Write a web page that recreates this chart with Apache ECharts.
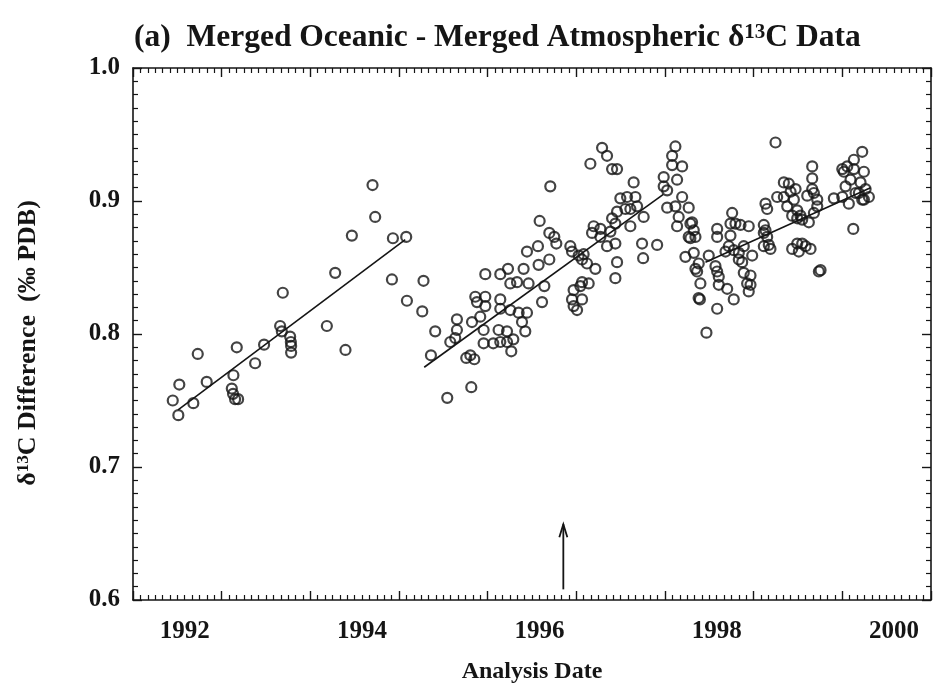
<!DOCTYPE html>
<html>
<head>
<meta charset="utf-8">
<script src="https://cdn.jsdelivr.net/npm/echarts@6/dist/echarts.min.js"></script>
<style>
  html, body { margin: 0; padding: 0; background: #ffffff; }
  #chart { width: 935px; height: 689px; }
</style>
</head>
<body>
<div id="chart"></div>
<script>
// Oceanic minus atmospheric δ13C differences, by analysis date (decimal year, ‰ PDB)
const pointsEarly = [
  [1991.865, 0.750], [1991.928, 0.739], [1991.939, 0.762], [1992.097, 0.748],
  [1992.147, 0.785], [1992.248, 0.764], [1992.549, 0.769], [1992.531, 0.759],
  [1992.545, 0.755], [1992.568, 0.751], [1992.602, 0.751], [1992.587, 0.790],
  [1992.794, 0.778], [1992.895, 0.792], [1993.076, 0.806], [1993.106, 0.831],
  [1993.095, 0.802], [1993.189, 0.798], [1993.197, 0.794], [1993.200, 0.791],
  [1993.200, 0.786], [1993.603, 0.806], [1993.697, 0.846], [1993.813, 0.788],
  [1993.885, 0.874], [1994.118, 0.912], [1994.148, 0.888], [1994.348, 0.872],
  [1994.498, 0.873], [1994.337, 0.841], [1994.506, 0.825]
];

const pointsMid = [
  [1994.693, 0.840], [1994.679, 0.817], [1994.825, 0.802], [1994.777, 0.784],
  [1994.961, 0.752], [1995.232, 0.760], [1995.175, 0.782], [1995.266, 0.781],
  [1995.221, 0.784], [1995.480, 0.793], [1995.683, 0.787], [1995.706, 0.796],
  [1996.123, 0.911], [1996.003, 0.885], [1996.112, 0.876], [1996.168, 0.873],
  [1996.191, 0.868], [1995.860, 0.862], [1995.984, 0.866], [1996.112, 0.856],
  [1995.991, 0.852], [1995.822, 0.849], [1995.646, 0.849], [1995.559, 0.845],
  [1995.390, 0.845], [1995.672, 0.838], [1995.748, 0.839], [1995.878, 0.838],
  [1996.056, 0.836], [1996.030, 0.824], [1995.277, 0.828], [1995.390, 0.828],
  [1995.296, 0.824], [1995.390, 0.821], [1995.559, 0.826], [1995.559, 0.819],
  [1995.672, 0.818], [1995.240, 0.809], [1995.333, 0.813], [1995.070, 0.811],
  [1995.070, 0.803], [1994.995, 0.794], [1995.051, 0.797], [1995.371, 0.803],
  [1995.371, 0.793], [1995.540, 0.803], [1995.635, 0.802], [1995.559, 0.794],
  [1995.635, 0.794], [1995.841, 0.802], [1995.766, 0.816], [1995.860, 0.816],
  [1995.804, 0.809], [1996.368, 0.862], [1996.349, 0.866], [1996.443, 0.859],
  [1996.499, 0.860], [1996.481, 0.856], [1996.537, 0.853], [1996.631, 0.849],
  [1996.556, 0.838], [1996.481, 0.839], [1996.462, 0.836], [1996.386, 0.833],
  [1996.368, 0.826], [1996.386, 0.821], [1996.425, 0.818], [1996.481, 0.826],
  [1996.857, 0.842], [1996.876, 0.854], [1996.857, 0.868], [1996.763, 0.866],
  [1996.688, 0.873], [1996.612, 0.881], [1996.594, 0.876], [1996.688, 0.879],
  [1996.575, 0.928], [1996.707, 0.940], [1996.763, 0.934], [1996.820, 0.924],
  [1996.876, 0.924], [1996.820, 0.887], [1996.876, 0.892], [1996.913, 0.902],
  [1996.989, 0.903], [1996.970, 0.894], [1997.026, 0.894], [1997.063, 0.914],
  [1997.083, 0.903], [1997.102, 0.896], [1997.026, 0.881], [1997.176, 0.888],
  [1996.857, 0.883], [1996.801, 0.877], [1997.158, 0.868], [1997.328, 0.867],
  [1997.170, 0.857], [1997.534, 0.941], [1997.497, 0.934], [1997.610, 0.926],
  [1997.497, 0.927], [1997.402, 0.918], [1997.553, 0.916], [1997.402, 0.911],
  [1997.441, 0.908], [1997.610, 0.903], [1997.684, 0.895], [1997.534, 0.896],
  [1997.441, 0.895], [1997.571, 0.888], [1997.553, 0.881]
];

const pointsLate = [
  [1997.703, 0.883], [1997.741, 0.878], [1997.703, 0.872], [1997.760, 0.873],
  [1997.722, 0.884], [1997.684, 0.873], [1997.647, 0.858], [1997.741, 0.861],
  [1997.797, 0.853], [1997.910, 0.859], [1997.779, 0.847], [1997.760, 0.849],
  [1997.816, 0.838], [1997.810, 0.826], [1997.796, 0.827], [1998.005, 0.879],
  [1998.005, 0.873], [1997.986, 0.851], [1998.005, 0.847], [1998.023, 0.843],
  [1998.023, 0.837], [1998.118, 0.834], [1998.192, 0.826], [1998.005, 0.819],
  [1997.884, 0.801], [1998.174, 0.891], [1998.155, 0.883], [1998.211, 0.883],
  [1998.268, 0.882], [1998.361, 0.881], [1998.155, 0.874], [1998.136, 0.866],
  [1998.099, 0.862], [1998.192, 0.863], [1998.249, 0.861], [1998.305, 0.866],
  [1998.249, 0.856], [1998.287, 0.854], [1998.400, 0.859], [1998.305, 0.846],
  [1998.381, 0.844], [1998.343, 0.838], [1998.381, 0.837], [1998.361, 0.832],
  [1998.550, 0.898], [1998.569, 0.894], [1998.531, 0.882], [1998.550, 0.878],
  [1998.531, 0.876], [1998.569, 0.873], [1998.587, 0.867], [1998.606, 0.864],
  [1998.531, 0.866], [1998.663, 0.944], [1998.757, 0.914], [1998.813, 0.913],
  [1998.889, 0.909], [1998.682, 0.903], [1998.757, 0.903], [1998.833, 0.907],
  [1998.870, 0.901], [1998.795, 0.896], [1998.908, 0.893], [1998.851, 0.889],
  [1998.945, 0.889], [1998.964, 0.886], [1998.908, 0.887], [1998.851, 0.864],
  [1998.908, 0.868], [1998.964, 0.868], [1999.002, 0.866], [1999.058, 0.864],
  [1998.926, 0.862], [1999.152, 0.847], [1999.171, 0.848], [1999.077, 0.926],
  [1999.077, 0.917], [1999.077, 0.909], [1999.021, 0.904], [1999.096, 0.906],
  [1999.134, 0.901], [1999.134, 0.896], [1999.039, 0.884], [1999.096, 0.891],
  [1999.321, 0.902], [1999.416, 0.924], [1999.434, 0.922], [1999.547, 0.931],
  [1999.641, 0.937], [1999.547, 0.924], [1999.509, 0.916], [1999.660, 0.922],
  [1999.622, 0.914], [1999.679, 0.909], [1999.603, 0.906], [1999.716, 0.903],
  [1999.490, 0.898], [1999.660, 0.901], [1999.416, 0.903], [1999.453, 0.911],
  [1999.540, 0.879], [1999.472, 0.926], [1999.566, 0.906], [1999.641, 0.901]
];

// Linear trend segments fitted to each period
const trendEarly = [[1991.925, 0.743], [1994.487, 0.871]];
const trendMid = [[1994.701, 0.775], [1997.398, 0.905]];
const trendLate = [[1997.873, 0.854], [1999.735, 0.910]];

// Marker arrow: date, base value, tip value
const arrowMark = [[1996.270, 0.608, 0.657]];

// Axis extents and labels
const dateMin = 1991 + 5 / 12;
const dateMax = 2000 + 5 / 12;
const xLabelYears = [1992, 1994, 1996, 1998, 2000];
const yTicks = [0.6, 0.7, 0.8, 0.9, 1.0];

const INK = '#151515';
const SERIF = '"Liberation Serif", "DejaVu Serif", serif';

const chart = echarts.init(document.getElementById('chart'), null, { renderer: 'canvas' });

// Month offsets (from Jan 1992) for the label axis
const monthMin = Math.round((dateMin - 1992) * 12);
const monthMax = Math.round((dateMax - 1992) * 12);
const yearSpan = Math.round(dateMax - dateMin);

function tickAxis(position) {
  return {
    type: 'value',
    position: position,
    min: 0,
    max: yearSpan,
    interval: 1,
    axisLine: { show: true, onZero: false, lineStyle: { color: INK, width: 1.6 } },
    axisTick: { show: true, inside: true, length: 9, lineStyle: { color: INK, width: 1.4 } },
    minorTick: { show: true, splitNumber: 12, length: 5, lineStyle: { color: INK, width: 1.2 } },
    axisLabel: { show: false },
    splitLine: { show: false },
    minorSplitLine: { show: false }
  };
}

function valueAxis(position, withLabels) {
  return {
    type: 'value',
    position: position,
    min: yTicks[0],
    max: yTicks[yTicks.length - 1],
    interval: 0.1,
    axisLine: { show: true, onZero: false, lineStyle: { color: INK, width: 1.6 } },
    axisTick: { show: true, inside: true, length: 9, lineStyle: { color: INK, width: 1.4 } },
    minorTick: { show: true, splitNumber: 10, length: 5, lineStyle: { color: INK, width: 1.2 } },
    axisLabel: withLabels ? {
      show: true,
      margin: 13,
      color: INK,
      fontFamily: SERIF,
      fontWeight: 'bold',
      fontSize: 25,
      formatter: v => v.toFixed(1)
    } : { show: false },
    splitLine: { show: false },
    name: withLabels ? '{t|δ}{s|13}{t|C Difference  (‰ PDB)}{g|}' : '',
    nameLocation: 'middle',
    nameGap: 92,
    nameRotate: 90,
    nameTextStyle: {
      rich: {
        t: { fontFamily: SERIF, fontWeight: 'bold', fontSize: 26, color: INK },
        s: { fontFamily: SERIF, fontWeight: 'bold', fontSize: 17, color: INK, verticalAlign: 'top' },
        g: { width: 18 }
      }
    }
  };
}

const circleStyle = {
  color: 'rgba(0,0,0,0)',
  borderColor: INK,
  borderWidth: 2.2
};

function scatter(data) {
  return {
    type: 'scatter',
    xAxisIndex: 0,
    yAxisIndex: 0,
    data: data,
    symbol: 'circle',
    symbolSize: 10,
    itemStyle: circleStyle,
    silent: true,
    z: 3
  };
}

function trend(data) {
  return {
    type: 'line',
    xAxisIndex: 0,
    yAxisIndex: 0,
    data: data,
    symbol: 'none',
    lineStyle: { color: INK, width: 1.6 },
    silent: true,
    z: 4
  };
}

const option = {
  backgroundColor: '#ffffff',
  animation: false,
  title: {
    text: '{t|(a)  Merged Oceanic - Merged Atmospheric δ}{s|13}{t|C Data}',
    left: 129,
    top: 17,
    textStyle: {
      rich: {
        t: { fontFamily: SERIF, fontWeight: 'bold', fontSize: 31.5, color: INK },
        s: { fontFamily: SERIF, fontWeight: 'bold', fontSize: 21, color: INK, verticalAlign: 'top' }
      }
    }
  },
  grid: { left: 133, top: 68, width: 798, height: 533, containLabel: false },
  xAxis: [
    // data axis (decimal years)
    { type: 'value', min: dateMin, max: dateMax, show: false },
    tickAxis('bottom'),
    tickAxis('top'),
    // year labels, spaced by month
    {
      type: 'value',
      position: 'bottom',
      min: monthMin,
      max: monthMax,
      interval: 1,
      axisLine: { show: false },
      axisTick: { show: false },
      splitLine: { show: false },
      axisLabel: {
        show: true,
        margin: 19,
        color: INK,
        fontFamily: SERIF,
        fontWeight: 'bold',
        fontSize: 25,
        hideOverlap: false,
        showMinLabel: true,
        showMaxLabel: true,
        formatter: v => {
          const yr = 1992 + v / 12;
          return xLabelYears.indexOf(yr) >= 0 ? String(yr) : '';
        }
      },
      name: 'Analysis Date',
      nameLocation: 'middle',
      nameGap: 60,
      nameTextStyle: { fontFamily: SERIF, fontWeight: 'bold', fontSize: 24, color: INK }
    }
  ],
  yAxis: [valueAxis('left', true), valueAxis('right', false)],
  series: [
    scatter(pointsEarly),
    scatter(pointsMid),
    scatter(pointsLate),
    trend(trendEarly),
    trend(trendMid),
    trend(trendLate),
    {
      type: 'custom',
      xAxisIndex: 0,
      yAxisIndex: 0,
      data: arrowMark,
      silent: true,
      z: 5,
      renderItem: function (params, api) {
        const base = api.coord([api.value(0), api.value(1)]);
        const tip = api.coord([api.value(0), api.value(2)]);
        const st = { stroke: INK, lineWidth: 1.8, fill: null };
        return {
          type: 'group',
          children: [
            { type: 'line', shape: { x1: base[0], y1: base[1], x2: tip[0], y2: tip[1] }, style: st },
            { type: 'polyline', shape: { points: [[tip[0] - 4, tip[1] + 13], [tip[0], tip[1]], [tip[0] + 4, tip[1] + 13]] }, style: st }
          ]
        };
      }
    }
  ]
};

chart.setOption(option);
</script>
</body>
</html>
